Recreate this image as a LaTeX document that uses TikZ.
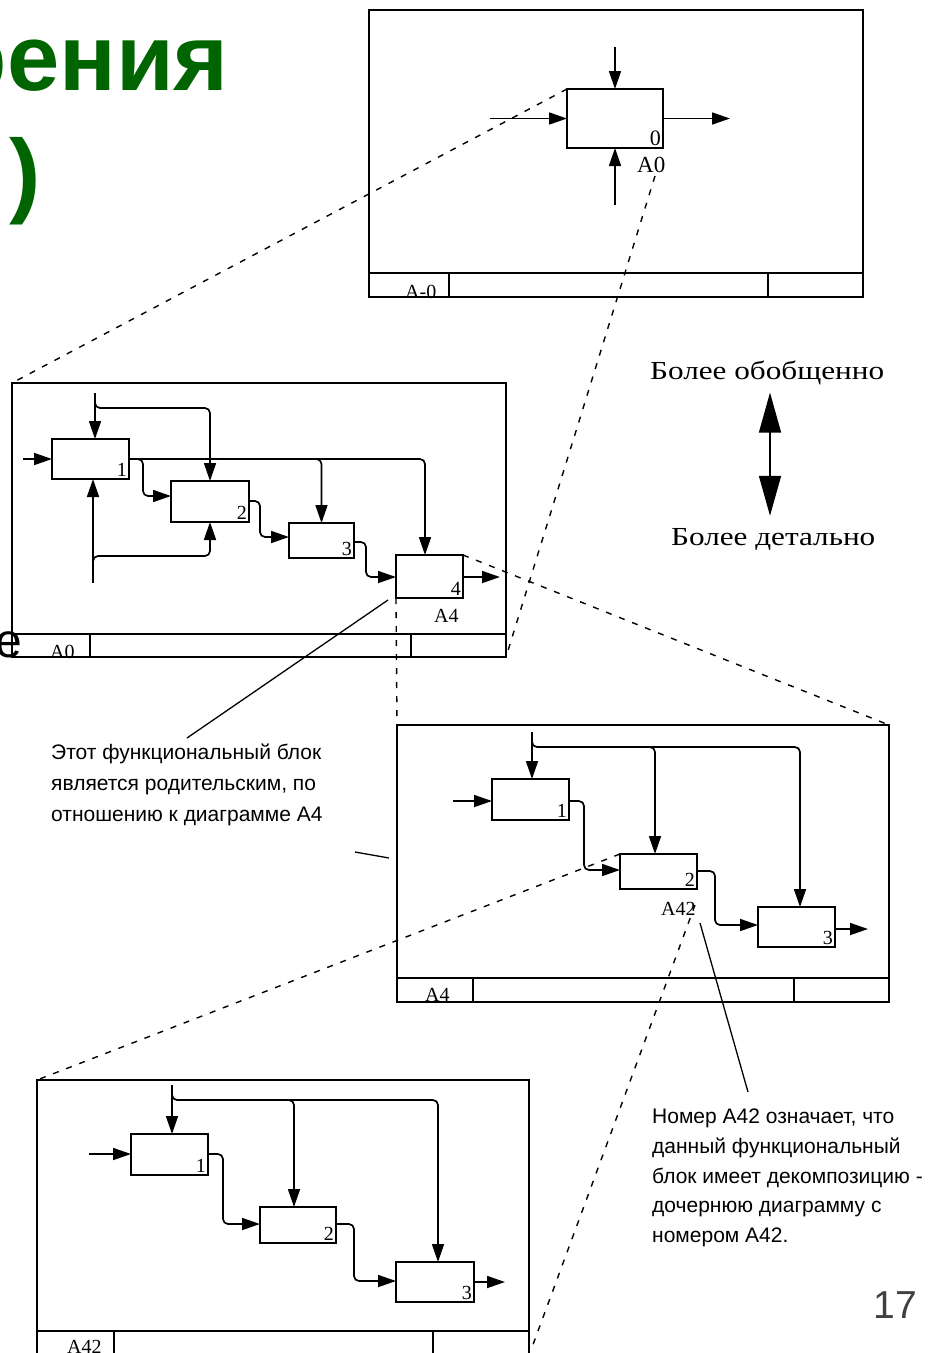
\documentclass[tikz,border=0pt]{standalone}
\usepackage{fontspec}
\usepackage{graphicx}
\setmainfont{Liberation Serif}
\newfontfamily\sansf{Liberation Sans}
\usetikzlibrary{arrows.meta}
\definecolor{titlegreen}{RGB}{0,100,0}
\definecolor{pagegray}{RGB}{64,64,64}
\newcommand\fsz[2]{\fontsize{#1}{#2}\selectfont}
\begin{document}
\begin{tikzpicture}[x=1pt,y=-1pt,
  blk/.style={draw, line width=1.7pt, inner sep=0pt, outer sep=0pt, anchor=north west},
  frm/.style={draw, line width=2pt, inner sep=0pt, outer sep=0pt, anchor=north west},
  conn/.style={line width=1.7pt, rounded corners=5pt, -{Triangle[length=18pt,width=12pt]}},
  strip/.style={line width=2pt},
  zoomline/.style={line width=1.4pt, dash pattern=on 6pt off 8pt},
  leader/.style={line width=1.3pt},
  num/.style={inner sep=2pt, anchor=south east, font=\fsz{20}{20}},
  flab/.style={inner sep=0pt, anchor=base west, font=\fsz{20}{20}},
  dbl/.style={line width=1.5pt, {Triangle[length=40pt,width=22pt]}-{Triangle[length=40pt,width=22pt]}},
]
\useasboundingbox (0,0) rectangle (936,1353);
\clip (0,0) rectangle (936,1353);

% title fragments
\node[anchor=base east, inner sep=0pt, text=titlegreen, font=\sansf\bfseries\fsz{94}{94}] (title1) at (229,90) {рения};
\node[anchor=base east, inner sep=0pt, text=titlegreen, font=\sansf\bfseries\fsz{94}{94}] (title2) at (41,205) {)};
\node[anchor=base east, inner sep=0pt, font=\sansf\fsz{48}{48}] (frag) at (22,657) {е};
\node[anchor=base east, inner sep=0pt, text=pagegray, font=\sansf\fsz{39}{39}] (pagenum) at (917,1318) {17};

% ---------- A-0 frame ----------
\node[frm, minimum width=494pt, minimum height=287pt] (F1) at (369,10) {};
\draw[strip] (369,273) -- (863,273) (449,273) -- (449,297) (768,273) -- (768,297);
\node[flab] (F1lab) at (405,298) {A-0};
\node[blk, minimum width=96pt, minimum height=59pt] (t0) at (567,89) {};
\node[num, font=\fsz{22}{22}] (t0num) at (t0.south east) {0};
\node[inner sep=0pt, anchor=base west, font=\fsz{23}{23}] (t0lab) at (637,172) {A0};
\draw[conn] ([yshift=42pt]t0.north) -- (t0.north);
\draw[conn] (490,0 |- t0.west) -- (t0.west);
\draw[conn] (t0.east) -- (730,0 |- t0.east);
\draw[conn] ([yshift=-57pt]t0.south) -- (t0.south);

% ---------- A0 frame ----------
\node[frm, minimum width=494pt, minimum height=274pt] (F2) at (12,383) {};
\draw[strip] (12,634) -- (506,634) (90,634) -- (90,657) (411,634) -- (411,657);
\node[flab] (F2lab) at (50,658) {A0};
\node[blk, minimum width=77pt, minimum height=40pt] (a1) at (52,439) {};
\node[blk, minimum width=78pt, minimum height=41pt] (a2) at (171,481) {};
\node[blk, minimum width=65pt, minimum height=35pt] (a3) at (289,523) {};
\node[blk, minimum width=67pt, minimum height=43pt] (a4) at (396,555) {};
\node[num] at (a1.south east) {1};
\node[num] at (a2.south east) {2};
\node[num] at (a3.south east) {3};
\node[num] at (a4.south east) {4};
\node[flab] (a4lab) at (434,622) {A4};
\draw[conn] (23,0 |- a1.west) -- (a1.west);
\draw[conn] (95,393) -- (95,0 |- a1.north);
\draw[conn] (95,400) -- (95,408) -- (210,408) -- (a2.north);
\draw[conn] (a1.east) -| (425,0 |- a4.north);
\draw[conn] (311,459) -| (a3.north);
\draw[conn] (136,459) -- (143,459) -- (143,496) -- (a2.west |- 0,496);
\draw[conn] (a2.east |- 0,501) -- (260,501) -- (260,537) -- (a3.west |- 0,537);
\draw[conn] (a3.east |- 0,542) -- (366,542) -- (366,577) -- (a4.west |- 0,577);
\draw[conn] (a4.east |- 0,577) -- (500,577);
\draw[conn] (93,583) -- (93,0 |- a1.south);
\draw[conn] (93,563) -- (93,556) -- (210,556) -- (a2.south);

% ---------- A4 frame ----------
\node[frm, minimum width=492pt, minimum height=277pt] (F3) at (397,725) {};
\draw[strip] (397,978) -- (889,978) (473,978) -- (473,1002) (794,978) -- (794,1002);
\node[flab] (F3lab) at (425,1001) {A4};
\node[blk, minimum width=77pt, minimum height=41pt] (c1) at (492,779) {};
\node[blk, minimum width=77pt, minimum height=35pt] (c2) at (620,854) {};
\node[blk, minimum width=77pt, minimum height=40pt] (c3) at (758,907) {};
\node[num] at (c1.south east) {1};
\node[num] at (c2.south east) {2};
\node[num] at (c3.south east) {3};
\node[flab] (c2lab) at (661,915) {A42};
\draw[conn] (532,732) -- (532,0 |- c1.north);
\draw[conn] (532,740) -- (532,747) -- (800,747) -- (800,0 |- c3.north);
\draw[conn] (647,747) -| (655,0 |- c2.north);
\draw[conn] (453,0 |- 0,801) -- (c1.west |- 0,801);
\draw[conn] (c1.east |- 0,801) -- (584,801) -- (584,870) -- (c2.west |- 0,870);
\draw[conn] (c2.east |- 0,871) -- (715,871) -- (715,925) -- (c3.west |- 0,925);
\draw[conn] (c3.east |- 0,929) -- (868,929);

% ---------- A42 frame ----------
\node[frm, minimum width=492pt, minimum height=285pt] (F4) at (37,1080) {};
\draw[strip] (37,1331) -- (529,1331) (114,1331) -- (114,1360) (433,1331) -- (433,1360);
\node[flab] (F4lab) at (67,1353) {A42};
\node[blk, minimum width=77pt, minimum height=41pt] (d1) at (131,1134) {};
\node[blk, minimum width=76pt, minimum height=36pt] (d2) at (260,1207) {};
\node[blk, minimum width=78pt, minimum height=40pt] (d3) at (396,1262) {};
\node[num] at (d1.south east) {1};
\node[num] at (d2.south east) {2};
\node[num] at (d3.south east) {3};
\draw[conn] (172,1085) -- (172,0 |- d1.north);
\draw[conn] (172,1094) -- (172,1100) -- (438,1100) -- (438,0 |- d3.north);
\draw[conn] (287,1100) -| (294,0 |- d2.north);
\draw[conn] (89,1154) -- (d1.west |- 0,1154);
\draw[conn] (d1.east |- 0,1154) -- (223,1154) -- (223,1224) -- (d2.west |- 0,1224);
\draw[conn] (d2.east |- 0,1224) -- (354,1224) -- (354,1281) -- (d3.west |- 0,1281);
\draw[conn] (d3.east |- 0,1282) -- (505,1282);

% ---------- side texts ----------
\node[inner sep=0pt, anchor=base west] (up) at (650,379) {\scalebox{1.2}[1]{\fsz{26}{26}Более обобщенно}};
\node[inner sep=0pt, anchor=base west] (down) at (671,545) {\scalebox{1.2}[1]{\fsz{26}{26}Более детально}};
\draw[dbl, shorten <=8pt, shorten >=12pt] (up.south -| 770,0) -- (down.north -| 770,0);

\node[inner sep=0pt, anchor=north west, align=left, font=\sansf\fsz{21}{31}] (note1) at (51,744)
  {Этот функциональный блок\\является родительским, по\\отношению к диаграмме А4};
\node[inner sep=0pt, anchor=north west, align=left, font=\sansf\fsz{21}{29.7}] (note2) at (652,1109)
  {Номер А42 означает, что\\данный функциональный\\блок имеет декомпозицию -\\дочернюю диаграмму с\\номером А42.};

% leaders
\coordinate (l1s) at (388,600);
\coordinate (l1e) at (187,738);
\draw[leader] (l1s) -- (l1e);
\coordinate (l2s) at (355,852);
\coordinate (l2e) at (389,858);
\draw[leader] (l2s) -- (l2e);
\coordinate (l3s) at (700,923);
\coordinate (l3e) at (748,1092);
\draw[leader] (l3s) -- (l3e);

% zoom (dashed) lines
\coordinate (z2s) at (655,176);
\coordinate (z6s) at (695,905);
\coordinate (z6e) at (531,1350);
\draw[zoomline] (t0.north west) -- (F2.north west);
\draw[zoomline] (z2s) -- (F2.south east);
\draw[zoomline] (a4.north east) -- (F3.north east);
\draw[zoomline] (a4.south west) -- (F3.north west);
\draw[zoomline] (c2.north west) -- (F4.north west);
\draw[zoomline] (z6s) -- (z6e);
\end{tikzpicture}
\end{document}
